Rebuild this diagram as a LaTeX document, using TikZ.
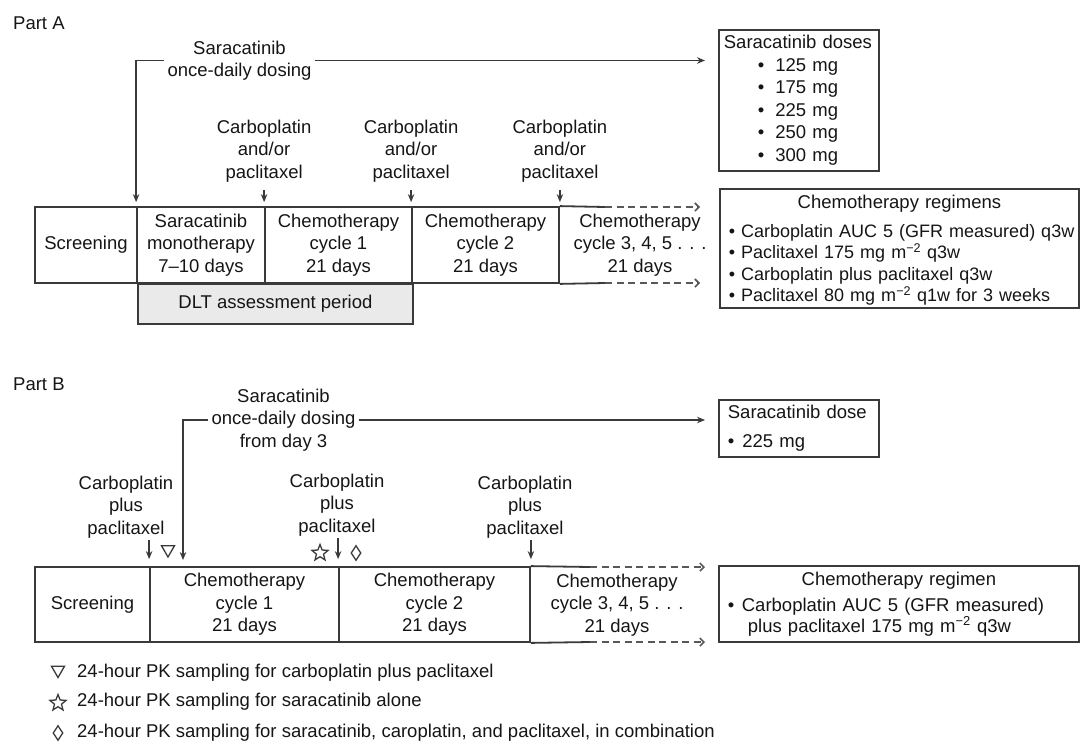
\documentclass[tikz,border=0pt]{standalone}
\usepackage{fontspec}
\setmainfont{Liberation Sans}
\usetikzlibrary{arrows.meta,shapes.geometric}
\definecolor{linegray}{HTML}{3A3A3A}
\definecolor{txtgray}{HTML}{151515}
\definecolor{dltgray}{HTML}{EAEAEA}
\newcommand{\fs}{\fontsize{18.5}{22.5}\selectfont}
\tikzset{
  lbl/.style={font=\fs, text=txtgray, align=center, inner sep=0pt},
  cell/.style={lbl, draw=linegray, line width=1.8pt, minimum height=76pt},
  infobox/.style={lbl, draw=linegray, line width=1.8pt, align=left, inner xsep=0pt, inner ysep=0pt, anchor=north west},
  tl/.style={draw=linegray, line width=1.8pt},
  arr/.style={draw=linegray, line width=1.4pt, -{Stealth[length=8pt,width=6.5pt]}},
  dasharr/.style={draw=linegray!85, line width=1.6pt, dash pattern=on 7pt off 4.5pt, -{Straight Barb[length=4pt,width=8pt]}},
  trisym/.style={draw=linegray, line width=1.3pt, regular polygon, regular polygon sides=3, shape border rotate=180, minimum size=15pt, inner sep=0pt},
  starsym/.style={draw=linegray, line width=1.3pt, star, star points=5, star point ratio=2.3, minimum size=17pt, inner sep=0pt},
  diasym/.style={draw=linegray, line width=1.3pt, diamond, minimum width=10pt, minimum height=15pt, inner sep=0pt},
}
\begin{document}
\begin{tikzpicture}[x=1pt, y=-1pt]
    \useasboundingbox (0,0) rectangle (1081,742);

    % Part A: timeline
    \node[lbl, anchor=west] (partA) at (13,23) {Part A};
    \node[cell, fill=dltgray, minimum width=275pt, minimum height=40pt, anchor=north west] (dlt) at (137,283) {DLT assessment period};
    \node[cell, minimum width=102pt] (scrA) at (86,245) {Screening};
    \node[cell, minimum width=128pt] (monoA) at (201,245) {Saracatinib\\monotherapy\\7--10 days};
    \node[cell, minimum width=147pt] (cycA1) at (338.5,245) {Chemotherapy\\cycle 1\\21 days};
    \node[cell, minimum width=147pt] (cycA2) at (485.5,245) {Chemotherapy\\cycle 2\\21 days};
    \node[lbl] (cycA3) at (640,245) {Chemotherapy\\cycle 3, 4, 5 . . .\\21 days};
    \coordinate (endAt) at (605,207);
    \coordinate (endAb) at (605,283);
    \draw[tl] (cycA2.north east) -- (endAt);
    \draw[tl] (cycA2.south east) -- (endAb);
    \draw[dasharr] (endAt) -- ++(95,0);
    \draw[dasharr] (endAb) -- ++(95,0);

    % Part A: saracatinib dosing
    \node[lbl, inner xsep=3pt] (sarA) at (239.5,60.5) {Saracatinib\\once-daily dosing};
    \node[infobox, text width=160pt, minimum height=141pt] (dosesA) at (718,29)
        {\hspace*{5pt}Saracatinib doses\\
         \hspace*{39pt}\textbullet\hspace{11pt}125 mg\\
         \hspace*{39pt}\textbullet\hspace{11pt}175 mg\\
         \hspace*{39pt}\textbullet\hspace{11pt}225 mg\\
         \hspace*{39pt}\textbullet\hspace{11pt}250 mg\\
         \hspace*{39pt}\textbullet\hspace{11pt}300 mg};
    \draw[arr, shorten >=4pt] (sarA.west) -| (monoA.north west);
    \draw[arr, shorten >=13pt] (sarA.east) -- (sarA.east -| dosesA.west);

    % Part A: chemotherapy
    \foreach \c/\i in {cycA1.north west/1, cycA2.north west/2, cycA2.north east/3} {
        \node[lbl] (carbA\i) at (\c |- 0,151) {Carboplatin\\and/or\\paclitaxel};
        \draw[arr, shorten <=8pt, shorten >=4pt] (carbA\i.south) -- (\c);
    }
    \node[infobox, text width=359pt, minimum height=119pt, font=\fontsize{18}{21.5}\selectfont] (regA) at (719,188)
        {\makebox[359pt]{\rule{0pt}{17pt}\fontsize{18.5}{21.5}\selectfont Chemotherapy regimens}\\[7pt]
         \mbox{\hspace*{9pt}\textbullet\hspace{6pt}Carboplatin AUC 5 (GFR measured) q3w}\\
         \mbox{\hspace*{9pt}\textbullet\hspace{6pt}Paclitaxel 175 mg m\textsuperscript{−2} q3w}\\
         \mbox{\hspace*{9pt}\textbullet\hspace{6pt}Carboplatin plus paclitaxel q3w}\\
         \mbox{\hspace*{9pt}\textbullet\hspace{6pt}Paclitaxel 80 mg m\textsuperscript{−2} q1w for 3 weeks}};

    % Part B: timeline
    \node[lbl, anchor=west] (partB) at (13,384) {Part B};
    \node[cell, minimum width=115pt, minimum height=75pt] (scrB) at (92.5,604.5) {Screening};
    \node[cell, minimum width=189pt, minimum height=75pt] (cycB1) at (244.5,604.5) {Chemotherapy\\cycle 1\\21 days};
    \node[cell, minimum width=191pt, minimum height=75pt] (cycB2) at (434.5,604.5) {Chemotherapy\\cycle 2\\21 days};
    \node[lbl] (cycB3) at (617,605) {Chemotherapy\\cycle 3, 4, 5 . . .\\21 days};
    \coordinate (endBt) at (590,567);
    \coordinate (endBb) at (590,642);
    \draw[tl] (cycB2.north east) -- (endBt);
    \draw[tl] (cycB2.south east) -- (endBb);
    \draw[dasharr] (endBt) -- ++(115,0);
    \draw[dasharr] (endBb) -- ++(115,0);

    % Part B: saracatinib dosing
    \node[lbl, inner xsep=3pt] (sarB) at (283.5,420) {Saracatinib\\once-daily dosing\\from day 3};
    \node[infobox, text width=160pt, minimum height=57pt] (doseB) at (718,399)
        {\hspace*{9pt}Saracatinib dose\\[7pt]
         \hspace*{9pt}\textbullet\hspace{8pt}225 mg};
    \coordinate (sarBin) at (183,567);
    \draw[arr, shorten >=7pt] (sarB.west) -| (sarBin);
    \draw[arr, shorten >=13pt] (sarB.east) -- (sarB.east -| doseB.west);

    % Part B: chemotherapy and PK sampling
    \node[lbl] (carbB1) at (126,507) {Carboplatin\\plus\\paclitaxel};
    \node[lbl] (carbB2) at (337,505) {Carboplatin\\plus\\paclitaxel};
    \node[lbl] (carbB3) at (525,507) {Carboplatin\\plus\\paclitaxel};
    \draw[arr, shorten <=2pt, shorten >=7pt] (carbB1.south -| cycB1.north west) -- (cycB1.north west);
    \draw[arr, shorten <=2pt, shorten >=7pt] (carbB2.south -| cycB2.north west) -- (cycB2.north west);
    \draw[arr, shorten <=2pt, shorten >=7pt] (carbB3.south -| cycB2.north east) -- (cycB2.north east);
    \node[trisym] (triB) at (168,549.5) {};
    \node[starsym] (starB) at (320,553) {};
    \node[diasym] (diaB) at (356,553) {};
    \node[infobox, text width=360pt, minimum height=76pt, font=\fontsize{18.5}{21}\selectfont] (regB) at (718,565)
        {\makebox[360pt]{Chemotherapy regimen}\\[5pt]
         \mbox{\hspace*{9pt}\textbullet\hspace{7.5pt}Carboplatin AUC 5 (GFR measured)}\\
         \mbox{\hspace*{29pt}plus paclitaxel 175 mg m\textsuperscript{−2} q3w}};

    % Legend
    \node[trisym] (legTri) at (58,670) {};
    \node[starsym] (legStar) at (58,703) {};
    \node[diasym] (legDia) at (58,733) {};
    \node[lbl, anchor=west] (legTriT) at (77,673) {24-hour PK sampling for carboplatin plus paclitaxel};
    \node[lbl, anchor=west] (legStarT) at (77,702) {24-hour PK sampling for saracatinib alone};
    \node[lbl, anchor=west] (legDiaT) at (77,733) {24-hour PK sampling for saracatinib, caroplatin, and paclitaxel, in combination};
\end{tikzpicture}
\end{document}
